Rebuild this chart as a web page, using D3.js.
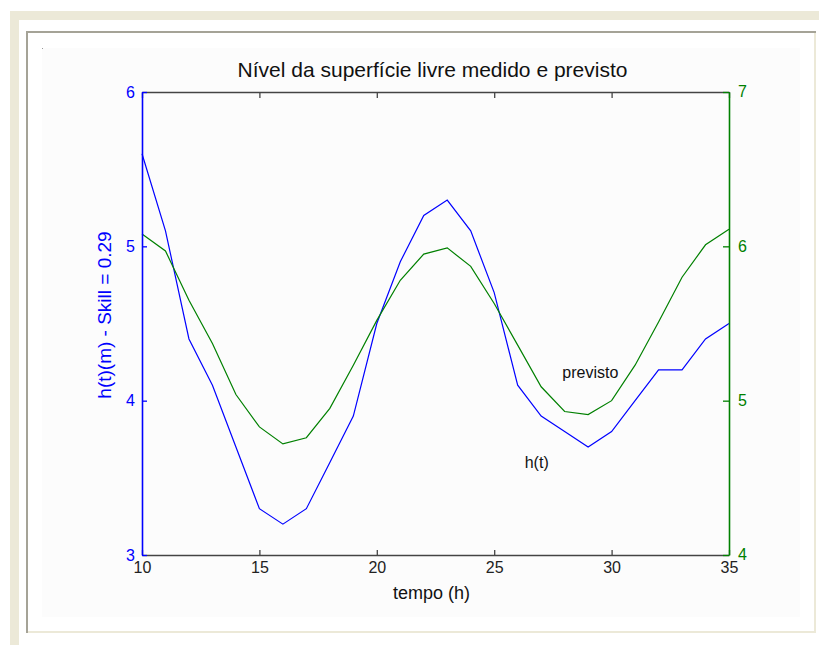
<!DOCTYPE html>
<html>
<head>
<meta charset="utf-8">
<script src="https://cdn.jsdelivr.net/npm/d3@7"></script>
<style>
  html, body { margin: 0; padding: 0; background: #ffffff; }
  svg { display: block; }
  text { font-family: "Liberation Sans", Arial, sans-serif; }
</style>
</head>
<body>
<svg id="chart" width="819" height="645"></svg>
<script>
// Hourly series: measured level h(t) (left axis) and model forecast (right axis)
const hours = [10, 11, 12, 13, 14, 15, 16, 17, 18, 19, 20, 21, 22, 23, 24, 25, 26, 27, 28, 29, 30, 31, 32, 33, 34, 35];
const measured = [5.6, 5.1, 4.4, 4.1, 3.7, 3.3, 3.2, 3.3, 3.6, 3.9, 4.5, 4.9, 5.2, 5.3, 5.1, 4.7, 4.1, 3.9, 3.8, 3.7, 3.8, 4.0, 4.2, 4.2, 4.4, 4.5];
const forecast = [6.08, 5.97, 5.65, 5.37, 5.04, 4.83, 4.72, 4.76, 4.95, 5.23, 5.52, 5.78, 5.95, 5.99, 5.87, 5.63, 5.36, 5.09, 4.93, 4.91, 5.0, 5.23, 5.51, 5.80, 6.01, 6.11];

const xTicks = [10, 15, 20, 25, 30, 35];
const leftTicks = [3, 4, 5, 6];
const rightTicks = [4, 5, 6, 7];

const titleText = "Nível da superfície livre medido e previsto";
const xLabelText = "tempo (h)";
const yLabelText = "h(t)(m) - Skill = 0.29";
const labelForecast = { t: 27.9, v: 4.18, text: "previsto" };
const labelMeasured = { t: 26.3, v: 3.6, text: "h(t)" };

const BLUE = "#0000ff";
const GREEN = "#008000";
const svg = d3.select("#chart");

// window frame around the figure
svg.append("rect").attr("x", 10).attr("y", 11).attr("width", 809).attr("height", 634).attr("fill", "#ece9d8");
svg.append("rect").attr("x", 19).attr("y", 20).attr("width", 800).attr("height", 625).attr("fill", "#ffffff");
svg.append("rect").attr("x", 27).attr("y", 32).attr("width", 789).attr("height", 601).attr("fill", "#ffffff");
svg.append("path").attr("d", "M27,633V32H816").attr("fill", "none").attr("stroke", "#a5a397").attr("stroke-width", 2);
svg.append("path").attr("d", "M28,632H815V33").attr("fill", "none").attr("stroke", "#ece9d8").attr("stroke-width", 2);
svg.append("rect").attr("x", 42).attr("y", 48).attr("width", 758).attr("height", 569).attr("fill", "#fcfcfc");
svg.append("rect").attr("x", 42).attr("y", 48).attr("width", 1).attr("height", 1).attr("fill", "#999");

const plotLeft = 142, plotRight = 729, plotTop = 92, plotBottom = 555;
const x = d3.scaleLinear().domain([10, 35]).range([plotLeft, plotRight]);
const yL = d3.scaleLinear().domain([3, 6]).range([plotBottom, plotTop]);
const yR = d3.scaleLinear().domain([4, 7]).range([plotBottom, plotTop]);

const plot = svg.append("g");

// data lines
const lineL = d3.line().x((d, i) => x(hours[i])).y(d => yL(d));
const lineR = d3.line().x((d, i) => x(hours[i])).y(d => yR(d));
plot.append("path").datum(measured).attr("d", lineL)
  .attr("fill", "none").attr("stroke", BLUE).attr("stroke-width", 1.2);
plot.append("path").datum(forecast).attr("d", lineR)
  .attr("fill", "none").attr("stroke", GREEN).attr("stroke-width", 1.2);

// axes: ticks point inward
const axisStyle = (g, color, size) => {
  g.select(".domain").attr("stroke", color).attr("stroke-width", 1.6);
  g.selectAll(".tick line").attr("stroke", color).attr("stroke-width", 1.3);
  g.selectAll(".tick text").attr("fill", color).style("font-size", size + "px")
    .style("font-family", '"Liberation Sans", Arial, sans-serif');
};

svg.append("g").attr("transform", `translate(0,${plotTop})`)
  .call(d3.axisTop(x).tickValues(xTicks).tickSizeInner(-6).tickSizeOuter(0).tickFormat(""))
  .call(g => axisStyle(g, "#444444", 16));

svg.append("g").attr("transform", `translate(0,${plotBottom})`)
  .call(d3.axisBottom(x).tickValues(xTicks).tickSizeInner(-5).tickSizeOuter(0).tickPadding(7).tickFormat(d3.format("d")))
  .call(g => axisStyle(g, "#444444", 16))
  .call(g => g.selectAll(".tick text").attr("fill", "#222222"));

svg.append("g").attr("transform", `translate(${plotLeft},0)`)
  .call(d3.axisLeft(yL).tickValues(leftTicks).tickSizeInner(-5).tickSizeOuter(0).tickPadding(7).tickFormat(d3.format("d")))
  .call(g => axisStyle(g, BLUE, 16));

svg.append("g").attr("transform", `translate(${plotRight},0)`)
  .call(d3.axisRight(yR).tickValues(rightTicks).tickSizeInner(-6).tickSizeOuter(0).tickPadding(9).tickFormat(d3.format("d")))
  .call(g => axisStyle(g, GREEN, 16))
  .call(g => g.selectAll(".tick text").attr("dy", "0.30em"));

// titles
svg.append("text").attr("x", (plotLeft + plotRight) / 2 - 3).attr("y", 77)
  .attr("text-anchor", "middle").attr("fill", "#111").style("font-size", "21px").text(titleText);
svg.append("text").attr("x", (plotLeft + plotRight) / 2 - 4).attr("y", 599)
  .attr("text-anchor", "middle").attr("fill", "#111").style("font-size", "18px").text(xLabelText);
svg.append("text").attr("transform", "translate(111,315) rotate(-90)")
  .attr("text-anchor", "middle").attr("fill", BLUE).style("font-size", "19px").text(yLabelText);

// in-plot labels
svg.append("text").attr("x", x(labelForecast.t)).attr("y", yL(labelForecast.v)).attr("dy", "0.35em")
  .attr("fill", "#111").style("font-size", "16px").text(labelForecast.text);
svg.append("text").attr("x", x(labelMeasured.t)).attr("y", yL(labelMeasured.v)).attr("dy", "0.35em")
  .attr("fill", "#111").style("font-size", "16px").text(labelMeasured.text);
</script>
</body>
</html>
